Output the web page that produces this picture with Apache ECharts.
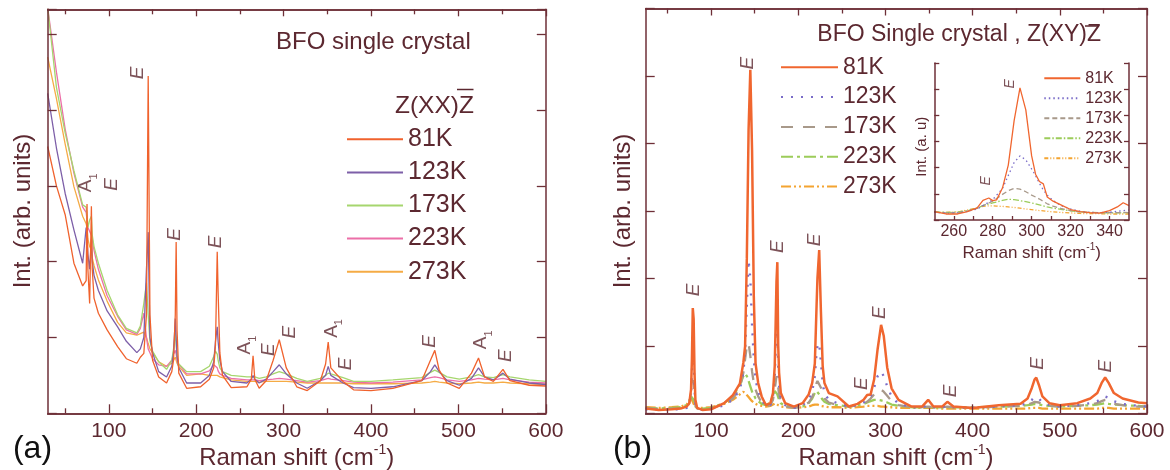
<!DOCTYPE html>
<html>
<head>
<meta charset="utf-8">
<script src="https://cdn.jsdelivr.net/npm/echarts@6/dist/echarts.min.js"></script>
<style>
  html, body { margin: 0; padding: 0; background: #fff; }
  #main { width: 1170px; height: 470px; }
</style>
</head>
<body>
<div id="main"></div>
<script>
var temps = ['81K', '123K', '173K', '223K', '273K'];

// (a) Z(XX)Z-bar spectra, Raman shift in cm-1, intensity in arb. units
var shiftA = [30, 40, 50, 60, 70, 74, 75, 76, 78, 80, 81, 83, 88, 98, 110, 120, 132, 136, 140, 143,
  145, 147, 150, 157, 166, 172, 174, 176, 177, 178, 180, 189, 205, 215, 220, 222, 224, 225, 227, 230,
  240, 258, 263, 265, 267, 272, 280, 288, 295, 303, 315, 327, 342, 348, 351, 354, 368, 380, 400, 425,
  458, 468, 473, 478, 487, 501, 515, 523, 530, 540, 551, 559, 581, 600];
var a81 = [3.52, 3.0, 2.62, 1.98, 1.68, 1.75, 2.76, 1.9, 1.45, 2.73, 1.9, 1.52, 1.32, 1.1, 0.88, 0.72, 0.66, 0.74, 0.79, 1.3,
  4.45, 1.3, 0.7, 0.48, 0.4, 0.55, 0.7, 1.3, 2.26, 1.1, 0.53, 0.33, 0.35, 0.45, 0.6, 0.9, 2.13, 1.6, 0.8, 0.5,
  0.34, 0.35, 0.45, 0.76, 0.45, 0.33, 0.43, 0.7, 0.97, 0.6, 0.35, 0.3, 0.43, 0.65, 0.94, 0.6, 0.42, 0.31, 0.3, 0.33,
  0.43, 0.7, 0.83, 0.57, 0.4, 0.33, 0.53, 0.73, 0.48, 0.42, 0.58, 0.43, 0.37, 0.36];
var a123 = [4.22, 3.5, 2.9, 2.42, 1.98, 2.45, 2.3, 2.1, 1.9, 2.3, 2.0, 1.82, 1.62, 1.35, 1.14, 0.95, 0.8, 0.85, 1.0, 1.9,
  2.39, 1.0, 0.8, 0.55, 0.48, 0.62, 0.8, 1.25, 1.0, 0.75, 0.6, 0.4, 0.4, 0.5, 0.68, 0.95, 1.14, 0.95, 0.7, 0.55,
  0.42, 0.4, 0.45, 0.5, 0.45, 0.4, 0.45, 0.55, 0.64, 0.52, 0.4, 0.33, 0.43, 0.5, 0.62, 0.5, 0.4, 0.34, 0.33, 0.35,
  0.43, 0.55, 0.64, 0.55, 0.43, 0.37, 0.46, 0.6, 0.48, 0.44, 0.53, 0.45, 0.4, 0.38];
var a173 = [5.35, 4.3, 3.7, 3.2, 2.75, 2.72, 2.6, 2.45, 2.55, 2.6, 2.35, 2.2, 1.98, 1.62, 1.3, 1.12, 1.06, 1.15, 1.45, 1.72,
  1.3, 0.95, 0.82, 0.68, 0.58, 0.7, 0.85, 1.06, 0.9, 0.75, 0.65, 0.55, 0.55, 0.62, 0.75, 0.82, 0.78, 0.7, 0.6, 0.55,
  0.5, 0.48, 0.48, 0.5, 0.48, 0.46, 0.48, 0.52, 0.55, 0.52, 0.46, 0.42, 0.46, 0.5, 0.53, 0.52, 0.47, 0.42, 0.42, 0.44,
  0.47, 0.54, 0.57, 0.54, 0.48, 0.45, 0.48, 0.51, 0.48, 0.47, 0.51, 0.48, 0.44, 0.42];
var a223 = [5.35, 4.5, 3.75, 3.17, 2.72, 2.65, 2.55, 2.45, 2.4, 2.35, 2.3, 2.15, 1.9, 1.55, 1.28, 1.1, 1.04, 1.12, 1.32, 1.0,
  0.85, 0.8, 0.72, 0.64, 0.62, 0.7, 0.78, 0.83, 0.78, 0.7, 0.65, 0.52, 0.52, 0.56, 0.64, 0.66, 0.6, 0.56, 0.52, 0.5,
  0.46, 0.44, 0.44, 0.45, 0.44, 0.43, 0.44, 0.45, 0.46, 0.45, 0.43, 0.41, 0.43, 0.45, 0.46, 0.45, 0.43, 0.41, 0.4, 0.41,
  0.44, 0.47, 0.48, 0.47, 0.44, 0.42, 0.44, 0.46, 0.45, 0.44, 0.46, 0.44, 0.41, 0.4];
var a273 = [4.7, 4.15, 3.55, 2.99, 2.6, 2.5, 2.45, 2.3, 2.2, 2.15, 2.05, 1.95, 1.76, 1.48, 1.2, 1.06, 1.03, 1.05, 1.07, 1.0,
  0.92, 0.85, 0.8, 0.68, 0.62, 0.66, 0.7, 0.74, 0.7, 0.66, 0.62, 0.5, 0.52, 0.5, 0.5, 0.5, 0.5, 0.49, 0.48, 0.47,
  0.44, 0.42, 0.42, 0.42, 0.42, 0.41, 0.42, 0.42, 0.42, 0.42, 0.41, 0.4, 0.4, 0.4, 0.4, 0.4, 0.4, 0.39, 0.39, 0.39,
  0.4, 0.41, 0.42, 0.41, 0.4, 0.39, 0.4, 0.41, 0.4, 0.4, 0.41, 0.4, 0.39, 0.38];

// (b) Z(XY)Z-bar spectra
var shiftB = [25, 40, 55, 65, 72, 75, 77, 78, 79, 80, 81, 82, 84, 90, 100, 115, 125, 133, 137, 139,
  141, 143, 145, 147, 149, 151, 154, 158, 163, 168, 171, 173, 174, 175, 176, 177, 178, 180, 185, 195,
  205, 212, 216, 219, 221, 222, 224, 226, 228, 230, 235, 245, 258, 268, 275, 279, 283, 287, 291, 295,
  298, 302, 307, 315, 330, 342, 349, 355, 365, 371, 378, 400, 430, 455, 463, 468, 471, 473, 476, 480,
  488, 500, 520, 535, 543, 548, 552, 556, 562, 572, 590, 600];
var b81 = [0.07, 0.05, 0.06, 0.07, 0.1, 0.15, 0.35, 0.8, 1.56, 1.4, 0.6, 0.2, 0.08, 0.05, 0.06, 0.15, 0.27, 0.44, 0.75, 0.99,
  2.3, 4.2, 5.09, 3.9, 1.73, 0.74, 0.45, 0.25, 0.12, 0.15, 0.3, 0.7, 1.3, 1.95, 2.24, 1.0, 0.6, 0.3, 0.15, 0.1,
  0.15, 0.28, 0.45, 0.74, 1.6, 2.0, 2.42, 1.5, 0.7, 0.45, 0.3, 0.25, 0.1, 0.14, 0.2, 0.27, 0.28, 0.5, 0.95, 1.31,
  1.15, 0.68, 0.37, 0.2, 0.1, 0.1, 0.2, 0.1, 0.1, 0.17, 0.1, 0.08, 0.12, 0.14, 0.22, 0.38, 0.5, 0.53, 0.42, 0.25,
  0.15, 0.12, 0.15, 0.22, 0.3, 0.45, 0.53, 0.45, 0.3, 0.22, 0.16, 0.15];
var b123 = [0.06, 0.05, 0.06, 0.06, 0.08, 0.12, 0.3, 0.6, 0.99, 0.8, 0.35, 0.15, 0.07, 0.05, 0.06, 0.12, 0.2, 0.35, 0.6, 0.9,
  1.6, 2.27, 2.0, 1.3, 0.8, 0.5, 0.32, 0.2, 0.1, 0.12, 0.25, 0.55, 0.9, 1.52, 1.3, 0.7, 0.4, 0.22, 0.12, 0.08,
  0.12, 0.2, 0.32, 0.55, 0.9, 1.0, 1.04, 0.75, 0.45, 0.3, 0.2, 0.15, 0.1, 0.12, 0.16, 0.2, 0.25, 0.38, 0.55, 0.62,
  0.55, 0.4, 0.25, 0.14, 0.09, 0.09, 0.12, 0.09, 0.09, 0.11, 0.09, 0.08, 0.1, 0.12, 0.15, 0.2, 0.24, 0.25, 0.22, 0.16,
  0.12, 0.1, 0.12, 0.15, 0.18, 0.22, 0.25, 0.23, 0.18, 0.14, 0.11, 0.1];
var b173 = [0.08, 0.06, 0.07, 0.07, 0.09, 0.15, 0.3, 0.42, 0.49, 0.42, 0.25, 0.12, 0.07, 0.06, 0.07, 0.14, 0.22, 0.38, 0.6, 0.8,
  1.0, 1.04, 0.85, 0.62, 0.45, 0.35, 0.25, 0.16, 0.1, 0.12, 0.2, 0.35, 0.45, 0.55, 0.5, 0.38, 0.28, 0.18, 0.1, 0.08,
  0.1, 0.16, 0.24, 0.35, 0.45, 0.48, 0.46, 0.38, 0.28, 0.22, 0.16, 0.12, 0.1, 0.12, 0.14, 0.17, 0.22, 0.28, 0.34, 0.35,
  0.32, 0.26, 0.18, 0.12, 0.09, 0.09, 0.1, 0.09, 0.09, 0.1, 0.09, 0.08, 0.1, 0.11, 0.13, 0.15, 0.17, 0.18, 0.16, 0.13,
  0.11, 0.1, 0.11, 0.13, 0.15, 0.18, 0.2, 0.18, 0.14, 0.12, 0.1, 0.1];
var b223 = [0.08, 0.07, 0.08, 0.09, 0.12, 0.18, 0.25, 0.27, 0.25, 0.2, 0.14, 0.1, 0.08, 0.07, 0.08, 0.15, 0.25, 0.42, 0.55, 0.59,
  0.55, 0.48, 0.4, 0.32, 0.27, 0.22, 0.18, 0.14, 0.12, 0.16, 0.26, 0.33, 0.35, 0.33, 0.28, 0.24, 0.2, 0.15, 0.11, 0.09,
  0.1, 0.15, 0.22, 0.3, 0.33, 0.32, 0.28, 0.24, 0.2, 0.17, 0.14, 0.12, 0.1, 0.12, 0.14, 0.16, 0.18, 0.2, 0.2, 0.19,
  0.18, 0.16, 0.13, 0.11, 0.09, 0.09, 0.09, 0.09, 0.09, 0.09, 0.09, 0.09, 0.1, 0.11, 0.12, 0.13, 0.14, 0.14, 0.13, 0.12,
  0.11, 0.1, 0.11, 0.12, 0.13, 0.14, 0.15, 0.14, 0.13, 0.12, 0.11, 0.1];
var b273 = [0.09, 0.08, 0.09, 0.1, 0.13, 0.18, 0.22, 0.2, 0.17, 0.14, 0.11, 0.09, 0.08, 0.08, 0.09, 0.14, 0.2, 0.28, 0.32, 0.3,
  0.27, 0.24, 0.21, 0.18, 0.16, 0.14, 0.12, 0.11, 0.1, 0.11, 0.13, 0.14, 0.15, 0.14, 0.13, 0.12, 0.11, 0.1, 0.09, 0.08,
  0.09, 0.1, 0.12, 0.13, 0.13, 0.13, 0.12, 0.11, 0.1, 0.1, 0.09, 0.09, 0.08, 0.09, 0.1, 0.11, 0.11, 0.11, 0.11, 0.1,
  0.1, 0.09, 0.09, 0.08, 0.08, 0.08, 0.08, 0.08, 0.07, 0.07, 0.07, 0.07, 0.07, 0.07, 0.07, 0.08, 0.08, 0.08, 0.08, 0.07,
  0.07, 0.07, 0.07, 0.07, 0.07, 0.08, 0.08, 0.08, 0.07, 0.07, 0.07, 0.07];

// inset: zoom of (b) around the 295 cm-1 E mode
var shiftI = [250, 256, 262, 267, 272, 275, 278, 280, 282, 285, 288, 291, 294, 295, 297, 300, 302, 304, 306, 308,
  311, 315, 320, 325, 330, 335, 340, 344, 347, 350];
var i81 = [0.32, 0.23, 0.23, 0.32, 0.46, 0.75, 0.84, 0.74, 0.77, 1.22, 2.1, 3.8, 5.05, 5.11, 4.21, 2.45, 1.75, 1.47, 1.38, 0.88,
  0.72, 0.58, 0.4, 0.32, 0.28, 0.26, 0.36, 0.5, 0.66, 0.55];
var i123 = [0.3, 0.26, 0.27, 0.33, 0.42, 0.55, 0.68, 0.78, 0.95, 1.2, 1.7, 2.2, 2.45, 2.44, 2.3, 1.95, 1.7, 1.4, 1.15, 0.95,
  0.75, 0.55, 0.42, 0.33, 0.29, 0.28, 0.3, 0.33, 0.36, 0.38];
var i173 = [0.3, 0.27, 0.28, 0.34, 0.44, 0.55, 0.65, 0.72, 0.82, 0.98, 1.12, 1.21, 1.18, 1.16, 1.08, 0.95, 0.88, 0.8, 0.71, 0.62,
  0.53, 0.44, 0.36, 0.3, 0.28, 0.28, 0.28, 0.28, 0.29, 0.28];
var i223 = [0.32, 0.29, 0.3, 0.36, 0.45, 0.55, 0.61, 0.65, 0.69, 0.75, 0.79, 0.78, 0.74, 0.73, 0.7, 0.65, 0.62, 0.58, 0.54, 0.5,
  0.45, 0.41, 0.35, 0.31, 0.29, 0.28, 0.27, 0.27, 0.27, 0.27];
var i273 = [0.3, 0.29, 0.31, 0.38, 0.46, 0.52, 0.54, 0.54, 0.53, 0.52, 0.5, 0.48, 0.45, 0.44, 0.42, 0.4, 0.38, 0.36, 0.35, 0.33,
  0.31, 0.29, 0.27, 0.25, 0.24, 0.24, 0.23, 0.23, 0.23, 0.23];

// mode labels: [shift, intensity, mode]
var modesA = [[73.9, 3.04, 'A1'], [103.7, 3.02, 'E'], [132.9, 4.49, 'E'], [175.9, 2.36, 'E'], [221.8, 2.26, 'E'],
  [256, 0.9, 'A1'], [282.5, 0.84, 'E'], [306.5, 1.07, 'E'], [354.7, 1.12, 'A1'], [370.7, 0.65, 'E'],
  [466.6, 0.95, 'E'], [525.5, 0.97, 'A1'], [554.3, 0.76, 'E']];
var modesB = [[80.2, 1.83, 'E'], [141.5, 5.19, 'E'], [177, 2.47, 'E'], [218.6, 2.57, 'E'], [272.8, 0.44, 'E'],
  [293.7, 1.49, 'E'], [375, 0.33, 'E'], [475.1, 0.74, 'E'], [552.3, 0.7, 'E']];
var modesI = [[288.9, 5.2, 'E'], [276.6, 1.5, 'E']];

// axis ticks / labels
var majorTicks = [100, 200, 300, 400, 500, 600];
var minorTicks = [50, 150, 250, 350, 450, 550];
var insetTicks = [260, 270, 280, 290, 300, 310, 320, 330, 340];
var insetLabels = [260, 280, 300, 320, 340];

var FONT = '"Liberation Sans", Arial, Helvetica, sans-serif';
var AXIS = '#6e2f37';
var INK = '#5c2830';
var colorsA = ['#f0622d', '#7d5fa8', '#a6d66e', '#ec6fa8', '#f5ab45'];
var colorsB = ['#f0662f', '#7a6cc8', '#a8998a', '#9ccc5a', '#f4a431'];
var dashB = ['solid', [2, 8], [12, 10], [12, 4, 3, 4], [10, 3, 2, 3, 2, 3]];
var dashI = ['solid', [1.5, 3], [5, 3], [6, 2, 1.5, 2], [4, 2, 1, 2, 1, 2]];

function pairs(xs, ys) {
  return xs.map(function (x, i) { return [x, ys[i]]; });
}

var xAxes = [], yAxes = [];

function xAxis(gi, min, max, pos, ticks, len, labels, fs, z) {
  xAxes.push({
    type: 'value', gridIndex: gi, min: min, max: max, position: pos, z: z || 3,
    axisLine: { show: true, onZero: false, lineStyle: { color: AXIS, width: 1.5 } },
    axisTick: { show: true, inside: true, length: len, customValues: ticks, lineStyle: { color: AXIS, width: 1.3 } },
    axisLabel: labels ? { show: true, customValues: labels, color: INK, fontSize: fs, fontFamily: FONT, margin: fs > 18 ? 7 : 4 } : { show: false },
    splitLine: { show: false }
  });
  return xAxes.length - 1;
}
function yAxis(gi, max, pos, len, z) {
  yAxes.push({
    type: 'value', gridIndex: gi, min: 0, max: max, interval: 1, position: pos, z: z || 3,
    axisLine: { show: true, onZero: false, lineStyle: { color: AXIS, width: 1.5 } },
    axisTick: { show: true, inside: true, length: len, lineStyle: { color: AXIS, width: 1.3 } },
    axisLabel: { show: false },
    splitLine: { show: false }
  });
  return yAxes.length - 1;
}

// grid 0: panel (a)
var xa = xAxis(0, 30, 600, 'bottom', majorTicks, 9, majorTicks, 21);
xAxis(0, 30, 600, 'bottom', minorTicks, 5);
xAxis(0, 30, 600, 'top', majorTicks, 7);
xAxis(0, 30, 600, 'top', minorTicks, 5);
var ya = yAxis(0, 5.33, 'left', 9);
yAxis(0, 5.33, 'right', 9);
// grid 1: panel (b)
var xb = xAxis(1, 25, 600, 'bottom', majorTicks, 9, majorTicks, 21);
xAxis(1, 25, 600, 'bottom', minorTicks, 5);
xAxis(1, 25, 600, 'top', majorTicks, 7);
xAxis(1, 25, 600, 'top', minorTicks, 5);
var yb = yAxis(1, 6, 'left', 9);
yAxis(1, 6, 'right', 9);
// grid 2: inset
var xi = xAxis(2, 250, 350, 'bottom', insetTicks, 4, insetLabels, 16, 6);
var yi = yAxis(2, 6, 'left', 5, 6);
yAxis(2, 6, 'right', 5, 6);

var series = [];
var setA = [a81, a123, a173, a223, a273];
var setB = [b81, b123, b173, b223, b273];
var setI = [i81, i123, i173, i223, i273];
temps.forEach(function (t, k) {
  series.push({
    name: t + ' a', type: 'line', xAxisIndex: xa, yAxisIndex: ya, symbol: 'none', clip: true,
    lineStyle: { color: colorsA[k], width: 1.3 }, itemStyle: { color: colorsA[k] },
    data: pairs(shiftA, setA[k]), z: 2 + (5 - k) * 0.1
  });
});
temps.forEach(function (t, k) {
  series.push({
    name: t + ' b', type: 'line', xAxisIndex: xb, yAxisIndex: yb, symbol: 'none', clip: true,
    lineStyle: { color: colorsB[k], width: k === 0 ? 2.5 : 2.3, type: dashB[k] }, itemStyle: { color: colorsB[k] },
    data: pairs(shiftB, setB[k]), z: 2 + (5 - k) * 0.1
  });
});
temps.forEach(function (t, k) {
  series.push({
    name: t + ' i', type: 'line', xAxisIndex: xi, yAxisIndex: yi, symbol: 'none', clip: true,
    lineStyle: { color: colorsB[k], width: 1.3, type: dashI[k] }, itemStyle: { color: colorsB[k] },
    data: pairs(shiftI, setI[k]), z: 5 + (5 - k) * 0.1
  });
});

function modeSeries(xIdx, yIdx, list, fs, z) {
  return {
    type: 'scatter', xAxisIndex: xIdx, yAxisIndex: yIdx, symbolSize: 1, silent: true, z: z,
    itemStyle: { color: 'rgba(0,0,0,0)' },
    data: list,
    label: {
      show: true, position: 'inside', rotate: 90, color: INK,
      formatter: function (p) { return p.value[2] === 'A1' ? '{a|A}{s|1}' : '{e|E}'; },
      rich: {
        e: { fontSize: fs, fontStyle: 'italic', fontFamily: FONT, color: INK },
        a: { fontSize: fs, fontFamily: FONT, color: INK, lineHeight: fs + 8 },
        s: { fontSize: Math.round(fs * 0.6), fontFamily: FONT, color: INK, lineHeight: fs + 8, verticalAlign: 'bottom' }
      }
    }
  };
}
series.push(modeSeries(xa, ya, modesA, 19, 10));
series.push(modeSeries(xb, yb, modesB, 19, 10));
series.push(modeSeries(xi, yi, modesI, 14, 10));

function legendFor(suffix, left, top, w, fs, gap, z) {
  return {
    orient: 'vertical', left: left, top: top, itemWidth: w, itemHeight: 10, itemGap: gap,
    selectedMode: false, z: z || 8, padding: 0,
    itemStyle: { opacity: 0 },
    data: temps.map(function (t) { return t + ' ' + suffix; }),
    formatter: function (n) { return n.split(' ')[0]; },
    textStyle: { fontSize: fs, lineHeight: fs, color: INK, fontFamily: FONT }
  };
}

function txt(x, y, text, fs, opts) {
  var o = opts || {};
  return {
    type: 'text', x: x, y: y, rotation: o.rot || 0, z: 20,
    style: {
      text: text, fontSize: fs, fontFamily: FONT, fill: o.fill || INK,
      align: o.align || 'center', verticalAlign: 'middle',
      rich: {
        sup: { fontSize: Math.round(fs * 0.6), fontFamily: FONT, fill: o.fill || INK, verticalAlign: 'top', lineHeight: fs + 6 },
        n: { fontSize: fs, fontFamily: FONT, fill: o.fill || INK, lineHeight: fs + 6 }
      }
    }
  };
}
function bar(x1, x2, y) {
  return { type: 'line', z: 20, shape: { x1: x1, y1: y, x2: x2, y2: y }, style: { stroke: INK, lineWidth: 1.5 } };
}

var option = {
  animation: false,
  backgroundColor: '#fff',
  grid: [
    { left: 47.7, top: 9.3, width: 498.1, height: 404 },
    { left: 645.7, top: 8.5, width: 501.3, height: 404.8 },
    { left: 934.3, top: 63, width: 194.7, height: 157, show: true, backgroundColor: '#fff', borderWidth: 0, z: 4 }
  ],
  xAxis: xAxes,
  yAxis: yAxes,
  legend: [
    legendFor('a', 346, 126.8, 56, 25, 8.1),
    legendFor('b', 780, 55.8, 57, 23, 6.8),
    legendFor('i', 1043.3, 70.3, 36, 16, 4, 9)
  ],
  graphic: [
    txt(32.5, 449, '(a)', 32, { fill: '#111' }),
    txt(632.5, 449, '(b)', 32, { fill: '#111' }),
    txt(296.7, 458, '{n|Raman shift (cm}{sup|-1}{n|)}', 24),
    txt(896, 458, '{n|Raman shift (cm}{sup|-1}{n|)}', 24),
    txt(1031.7, 253.3, '{n|Raman shift (cm}{sup|-1}{n|)}', 17),
    txt(23, 211, 'Int. (arb. units)', 24, { rot: Math.PI / 2 }),
    txt(623.5, 211, 'Int. (arb. units)', 24, { rot: Math.PI / 2 }),
    txt(922.3, 146.7, 'Int. (a. u)', 15, { rot: Math.PI / 2 }),
    txt(276, 42, 'BFO single crystal', 24, { align: 'left' }),
    txt(395, 106, 'Z(XX)Z', 24.5, { align: 'left' }),
    bar(457, 473.5, 89.5),
    txt(817.3, 35, 'BFO Single crystal , Z(XY)Z', 23, { align: 'left' }),
    bar(1085, 1099, 26)
  ],
  series: series
};

var chart = echarts.init(document.getElementById('main'), null, { renderer: 'canvas' });
chart.setOption(option);
</script>
</body>
</html>
